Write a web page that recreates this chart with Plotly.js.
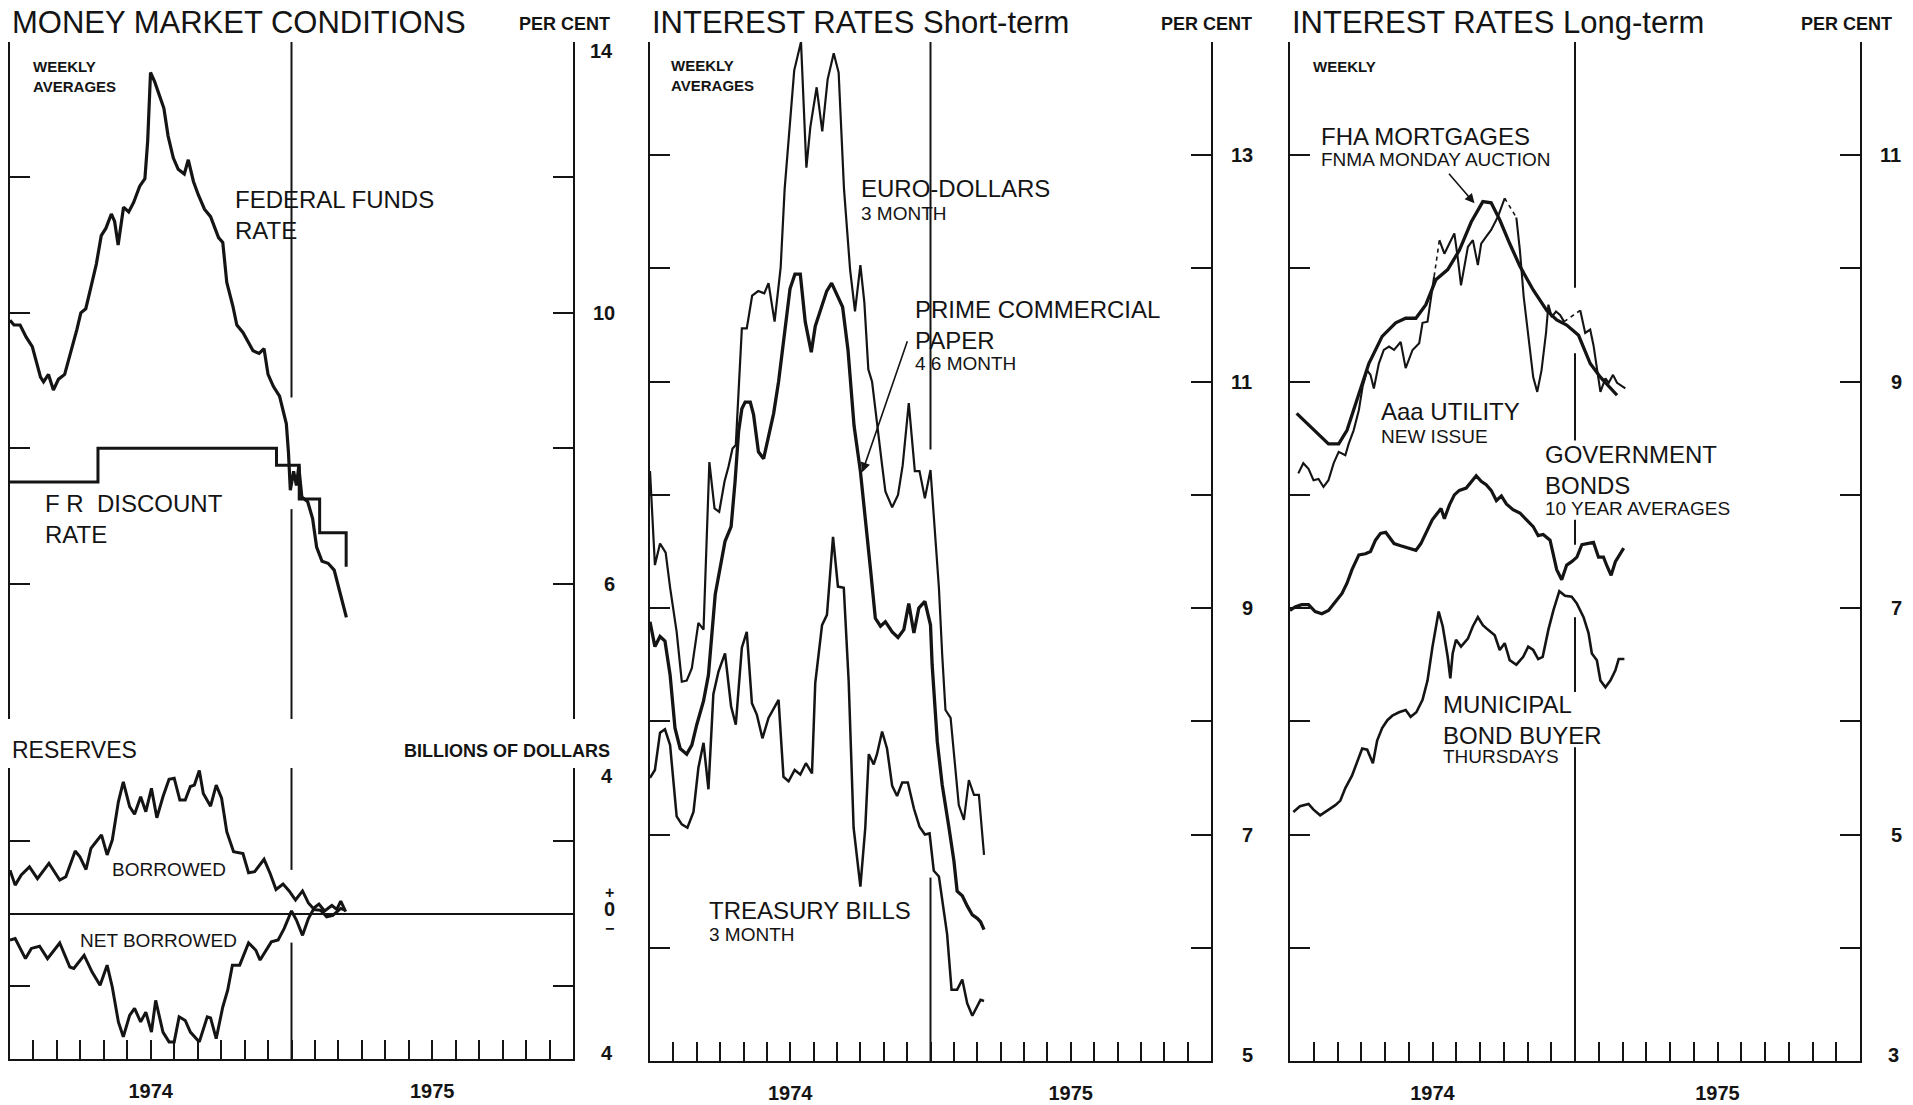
<!DOCTYPE html>
<html>
<head>
<meta charset="utf-8">
<script src="https://cdn.plot.ly/plotly-3.0.1.min.js"></script>
<style>html,body{margin:0;padding:0;background:#fff;}#chart{width:1913px;height:1105px;}</style>
</head>
<body>
<div id="chart"></div>
<script>
// x values: months elapsed since 1 January 1974
const monthTicks = [0,1,2,3,4,5,6,7,8,9,10,11,12,13,14,15,16,17,18,19,20,21,22,23,24];
const yearLabels = ['','','','','','','1974','','','','','','','','','','','','1975','','','','','',''];

// Money market conditions (per cent)
const ffMonths = [0,0.17,0.43,0.69,0.95,1.12,1.30,1.43,1.64,1.85,2.07,2.33,2.59,2.85,3.02,3.23,3.45,3.68,3.89,4.09,4.32,4.46,4.61,4.75,4.84,5.06,5.27,5.53,5.75,5.87,5.99,6.17,6.39,6.56,6.74,6.96,7.17,7.43,7.60,7.82,8.03,8.29,8.55,8.72,8.89,9.07,9.24,9.50,9.67,9.93,10.10,10.36,10.62,10.83,11.00,11.23,11.49,11.66,11.78,11.87,11.95,12.09,12.21,12.31,12.44,12.69,12.90,13.07,13.30,13.56,13.82,14.08,14.34];
const ffRate = [9.89,9.82,9.82,9.64,9.50,9.26,9.05,8.98,9.09,8.86,9.02,9.09,9.40,9.75,10.00,10.06,10.38,10.72,11.14,11.25,11.46,11.35,11.00,11.39,11.56,11.49,11.63,11.87,11.98,12.54,13.55,13.41,13.20,13.02,12.61,12.29,12.12,12.05,12.26,11.94,11.74,11.53,11.42,11.25,11.11,11.04,10.45,10.10,9.82,9.71,9.61,9.44,9.40,9.47,9.09,8.91,8.77,8.53,8.36,7.94,7.38,7.66,7.45,7.73,7.28,7.21,6.96,6.54,6.33,6.30,6.20,5.85,5.50];
const discMonths = [0,3.75,11.36,12.33,13.20,14.33];
const discRate = [7.5,8.0,7.75,7.25,6.75,6.25];

// Reserves (billions of dollars)
const borMonths = [0,0.22,0.48,0.83,1.17,1.66,2.12,2.38,2.78,2.98,3.24,3.45,3.62,3.90,4.14,4.36,4.62,4.83,5.10,5.31,5.57,5.79,6.03,6.26,6.52,6.78,7.00,7.24,7.47,7.69,7.86,8.07,8.24,8.55,8.79,9.02,9.24,9.53,9.93,10.17,10.43,10.83,11.09,11.34,11.64,11.90,12.17,12.47,12.72,12.93,13.17,13.41,13.72,13.93,14.10,14.31];
const borrowed = [1.19,0.78,1.06,1.28,0.96,1.38,0.92,1.01,1.72,1.56,1.21,1.79,1.93,2.16,1.61,2.02,3.07,3.62,2.94,2.73,3.21,2.80,3.44,2.63,3.21,3.69,3.72,3.12,3.12,3.49,3.53,3.93,3.30,2.95,3.53,3.17,2.25,1.70,1.65,1.12,1.15,1.49,1.10,0.66,0.81,0.62,0.37,0.62,0.29,0.14,0.26,0.07,0.22,0.11,0.34,0.05];
const netMonths = [0,0.22,0.66,0.91,1.26,1.60,2.12,2.55,2.72,3.16,3.50,3.84,4.14,4.36,4.62,4.83,5.10,5.31,5.57,5.79,6.03,6.21,6.52,6.78,7.00,7.21,7.47,7.69,8.07,8.41,8.55,8.79,9.07,9.28,9.48,9.79,10.17,10.48,10.66,10.91,11.14,11.43,11.69,12.00,12.21,12.47,12.72,12.93,13.24,13.50,13.76,14.10,14.28];
const netBorrowed = [-0.73,-0.69,-1.24,-0.96,-0.90,-1.24,-0.81,-1.47,-1.51,-1.15,-1.61,-1.97,-1.42,-2.02,-2.98,-3.39,-2.80,-2.61,-2.98,-2.71,-3.26,-2.39,-3.26,-3.53,-3.53,-2.84,-2.94,-3.26,-3.53,-2.84,-2.87,-3.44,-2.57,-2.11,-1.42,-1.42,-0.81,-1.01,-1.28,-1.01,-0.78,-0.73,-0.41,0.07,-0.18,-0.60,-0.14,0.11,0.09,-0.09,-0.05,0.14,0.09];

// Short-term interest rates (per cent)
const euroMonths = [0,0.21,0.43,0.67,0.86,1.14,1.36,1.57,1.79,2.07,2.29,2.54,2.76,2.96,3.19,3.36,3.53,3.67,3.93,4.14,4.37,4.63,4.89,5.07,5.33,5.59,5.76,6.03,6.17,6.46,6.69,6.86,7.13,7.37,7.60,7.86,8.07,8.30,8.56,8.77,9.00,9.17,9.34,9.50,9.71,9.93,10.07,10.36,10.61,10.81,11.07,11.33,11.53,11.76,12.00,12.14,12.36,12.50,12.64,12.86,13.07,13.21,13.43,13.64,13.86,14.07,14.29];
const euroRate = [10.21,9.38,9.57,9.49,9.18,8.79,8.35,8.36,8.47,8.87,8.81,10.29,9.88,9.85,10.12,10.25,10.41,10.44,11.47,11.47,11.76,11.80,11.78,11.87,11.53,12.01,12.70,13.37,13.75,14.00,12.89,13.25,13.60,13.21,13.67,13.90,13.73,12.70,11.99,11.62,12.03,11.70,11.11,11.00,10.62,10.26,10.03,9.89,10.00,10.26,10.81,10.21,10.21,9.97,10.22,9.82,9.18,8.59,8.10,8.03,7.59,7.26,7.13,7.48,7.35,7.35,6.82];
const cpMonths = [0,0.21,0.43,0.64,0.86,1.07,1.29,1.57,1.79,2.00,2.29,2.50,2.79,3.00,3.21,3.47,3.64,3.79,3.93,4.07,4.29,4.43,4.64,4.86,5.07,5.29,5.50,5.59,5.76,5.99,6.20,6.43,6.64,6.90,7.07,7.34,7.56,7.77,7.98,8.24,8.47,8.73,9.00,9.21,9.43,9.64,9.86,10.07,10.36,10.61,10.86,11.07,11.29,11.50,11.76,12.00,12.07,12.29,12.50,12.79,13.00,13.14,13.36,13.57,13.79,14.00,14.14,14.29];
const cpRate = [8.88,8.66,8.75,8.71,8.41,7.94,7.76,7.71,7.79,7.97,8.18,8.41,9.12,9.35,9.59,9.72,10.12,10.56,10.76,10.82,10.82,10.71,10.38,10.32,10.53,10.72,11.00,11.15,11.45,11.82,11.95,11.95,11.53,11.26,11.49,11.66,11.80,11.87,11.78,11.66,11.28,10.61,10.21,9.82,9.35,8.91,8.84,8.88,8.79,8.74,8.81,9.04,8.78,9.00,9.06,8.85,8.50,7.82,7.44,7.06,6.77,6.50,6.46,6.37,6.29,6.26,6.23,6.16];
const tbMonths = [0,0.21,0.43,0.64,0.86,1.14,1.36,1.60,1.86,2.07,2.29,2.50,2.71,2.93,3.21,3.47,3.67,3.93,4.14,4.36,4.57,4.81,5.07,5.50,5.71,5.93,6.19,6.43,6.67,6.93,7.07,7.36,7.57,7.83,8.04,8.29,8.50,8.71,9.00,9.21,9.36,9.57,9.71,9.93,10.14,10.36,10.57,10.79,11.03,11.29,11.53,11.76,11.96,12.14,12.36,12.57,12.71,12.90,13.14,13.36,13.57,13.79,13.97,14.14,14.29];
const tbRate = [7.50,7.57,7.90,7.93,7.79,7.16,7.09,7.06,7.20,7.59,7.81,7.40,8.24,8.44,8.60,8.13,7.97,8.65,8.79,8.16,8.06,7.85,8.03,8.19,7.51,7.47,7.57,7.53,7.63,7.54,8.34,8.85,8.94,9.63,9.19,9.18,8.35,7.06,6.54,7.06,7.71,7.62,7.71,7.91,7.76,7.43,7.34,7.46,7.46,7.23,7.07,7.00,7.01,6.68,6.63,6.35,6.12,5.63,5.63,5.72,5.51,5.40,5.47,5.54,5.53];

// Long-term interest rates (per cent)
const fhaMonths = [0.28,0.92,1.62,2.05,2.40,2.82,3.32,3.88,4.45,4.87,5.30,5.72,6.14,6.64,7.13,7.63,8.12,8.47,8.83,9.25,9.68,10.24,10.81,11.23,11.65,12.15,12.64,13.07,13.42,13.77];
const fhaRate = [8.72,8.59,8.45,8.45,8.57,8.84,9.16,9.40,9.52,9.56,9.56,9.68,9.90,9.99,10.16,10.41,10.59,10.58,10.43,10.22,10.02,9.81,9.63,9.545,9.50,9.41,9.16,9.04,8.96,8.88];
const aaaMonths = [0.35,0.56,0.78,0.99,1.20,1.41,1.62,1.84,2.05,2.33,2.47,2.68,2.90,3.06,3.25,3.39,3.53,3.74,3.95,4.17,4.38,4.66,4.87,5.16,5.44,5.58,5.79,5.93,6.07,6.29,6.50,6.71,6.92,7.06,7.20,7.49,7.70,7.91,8.05,8.26,8.47,8.76,9.04,9.53,9.68,9.84,10.03,10.24,10.41,10.59,10.78,10.88,11.02,11.20,11.37,11.54,12.22,12.43,12.64,12.78,13.07,13.28,13.42,13.60,13.77,14.12];
const aaaRate = [8.19,8.28,8.23,8.13,8.14,8.07,8.13,8.28,8.38,8.35,8.45,8.57,8.75,8.96,9.10,9.06,8.94,9.16,9.28,9.31,9.28,9.35,9.12,9.28,9.34,9.52,9.53,9.75,9.93,10.25,10.13,10.22,10.31,10.10,9.85,10.19,10.25,10.03,10.22,10.28,10.34,10.46,10.62,10.45,10.16,9.75,9.40,9.04,8.91,9.10,9.43,9.68,9.57,9.62,9.59,9.53,9.63,9.43,9.46,9.32,8.91,9.03,8.99,9.06,8.99,8.94];
const aaaDashedAfter = [28,42,55]; // weeks with no new issue: joined by a dashed line
const govMonths = [0,0.21,0.49,0.78,1.06,1.34,1.62,1.91,2.19,2.40,2.61,2.90,3.18,3.39,3.60,3.81,4.03,4.17,4.38,4.66,5.01,5.30,5.51,5.72,5.99,6.14,6.36,6.50,6.71,6.92,7.13,7.42,7.63,7.84,8.05,8.26,8.47,8.69,8.90,9.11,9.39,9.68,9.96,10.24,10.45,10.66,10.95,11.09,11.23,11.44,11.65,11.86,12.08,12.29,12.50,12.78,12.99,13.20,13.35,13.52,13.70,14.05];
const govRate = [6.98,7.01,7.03,7.03,6.97,6.95,6.98,7.06,7.13,7.22,7.34,7.47,7.48,7.50,7.60,7.66,7.67,7.63,7.57,7.55,7.53,7.51,7.57,7.66,7.78,7.82,7.88,7.79,7.91,8.00,8.04,8.06,8.12,8.17,8.12,8.09,8.04,7.95,7.99,7.92,7.87,7.84,7.78,7.72,7.64,7.65,7.60,7.48,7.34,7.25,7.38,7.41,7.45,7.56,7.57,7.58,7.45,7.45,7.37,7.29,7.41,7.53];
const muniMonths = [0.14,0.42,0.78,0.99,1.27,1.62,1.91,2.12,2.33,2.61,2.82,3.04,3.25,3.49,3.67,3.88,4.10,4.31,4.59,4.87,5.08,5.32,5.58,5.79,6.00,6.26,6.43,6.64,6.75,6.85,6.99,7.20,7.49,7.70,7.91,8.12,8.33,8.62,8.83,9.04,9.25,9.53,9.82,10.03,10.24,10.45,10.64,10.88,11.09,11.34,11.58,11.86,12.08,12.36,12.57,12.71,12.92,13.07,13.28,13.49,13.70,13.84,14.08];
const muniRate = [5.20,5.25,5.27,5.22,5.17,5.22,5.26,5.30,5.41,5.52,5.63,5.76,5.75,5.63,5.83,5.94,6.01,6.05,6.08,6.10,6.04,6.08,6.19,6.36,6.66,6.97,6.84,6.57,6.38,6.60,6.72,6.66,6.73,6.84,6.92,6.85,6.81,6.76,6.63,6.69,6.54,6.50,6.57,6.66,6.63,6.55,6.57,6.81,6.98,7.15,7.11,7.10,7.04,6.92,6.78,6.60,6.54,6.36,6.30,6.36,6.45,6.55,6.55];

// y-axis tick values and labels (U+2007 keeps single digits right-aligned);
// the labels at the very ends of an axis are drawn just inside the end tick
const fs = '\u2007';
const mmTicks = [4,6,8,10,12,14];
const mmLabels = ['', fs+'6', '', '10', '', ''];
const mmTopLabel = '14';
const resTicks = [-4,-2,0,2,4];
const resLabels = ['', '', '', '', ''];
const resTopLabel = fs+'4', resBottomLabel = fs+'4';
const resZeroLabel = ['+', '0', '\u2212'];
const stTicks = [5,6,7,8,9,10,11,12,13,14];
const stLabels = ['','',fs+'7','',fs+'9','','11','','13',''];
const stBottomLabel = fs+'5';
const ltTicks = [3,4,5,6,7,8,9,10,11,12];
const ltLabels = ['','',fs+'5','',fs+'7','',fs+'9','','11',''];
const ltBottomLabel = fs+'3';

// ---------------- drawing ----------------
const W = 1913, H = 1105;
const INK = '#141414';
const FONT = 'Liberation Sans, Arial, sans-serif';
const fx = p => p / W;
const fy = p => 1 - p / H;

function line(xs, ys, xa, ya, w, extra) {
  return Object.assign({
    type: 'scatter', mode: 'lines', x: xs, y: ys, xaxis: xa, yaxis: ya,
    line: {color: INK, width: w}, hoverinfo: 'skip', connectgaps: false
  }, extra || {});
}

// Aaa utility: solid pieces and dashed joins
const aaaSolidX = [], aaaSolidY = [], aaaDashX = [], aaaDashY = [];
aaaMonths.forEach((m, i) => {
  aaaSolidX.push(m); aaaSolidY.push(aaaRate[i]);
  if (aaaDashedAfter.includes(i)) {
    aaaSolidX.push(null); aaaSolidY.push(null);
    aaaDashX.push(m, aaaMonths[i + 1], null);
    aaaDashY.push(aaaRate[i], aaaRate[i + 1], null);
  }
});

const traces = [
  line(discMonths, discRate, 'x', 'y', 3, {line: {color: INK, width: 3, shape: 'hv'}}),
  line(ffMonths, ffRate, 'x', 'y', 3.2),
  line(borMonths, borrowed, 'x2', 'y2', 3),
  line(netMonths, netBorrowed, 'x2', 'y2', 3),
  line(euroMonths, euroRate, 'x3', 'y3', 2.2),
  line(cpMonths, cpRate, 'x3', 'y3', 3.3),
  line(tbMonths, tbRate, 'x3', 'y3', 2.5),
  line(aaaDashX, aaaDashY, 'x4', 'y4', 1.6, {line: {color: INK, width: 1.6, dash: '4px,4px'}}),
  line(aaaSolidX, aaaSolidY, 'x4', 'y4', 2.1),
  line(fhaMonths, fhaRate, 'x4', 'y4', 3.3),
  line(govMonths, govRate, 'x4', 'y4', 3.2),
  line(muniMonths, muniRate, 'x4', 'y4', 2.6)
];

const tickFont = {family: FONT, size: 20, color: INK, weight: 'bold'};
function yAxis(dom, range, tv, tt, anchor) {
  return {
    domain: dom, range: range, anchor: anchor, side: 'right',
    tickmode: 'array', tickvals: tv, ticktext: tt,
    ticks: 'inside', ticklen: 20, tickwidth: 2, tickcolor: INK,
    showline: true, linewidth: 2, linecolor: INK, mirror: 'ticks',
    showgrid: false, zeroline: false, tickfont: tickFont, ticklabelstandoff: 14,
    fixedrange: true
  };
}
function xAxis(dom, anchor, shown) {
  return {
    domain: dom, range: [0, 24], anchor: anchor,
    tickmode: 'array', tickvals: monthTicks, ticktext: yearLabels,
    ticks: shown ? 'inside' : '', ticklen: 19, tickwidth: 2, tickcolor: INK,
    showline: shown, linewidth: 2, linecolor: INK, mirror: false,
    showticklabels: shown, showgrid: false, zeroline: false,
    tickfont: tickFont, ticklabelstandoff: 13, fixedrange: true
  };
}

const xd1 = [fx(10), fx(573)], xd2 = [fx(650), fx(1211)], xd3 = [fx(1290), fx(1860)];
const y2axis = yAxis([fy(1059), fy(768)], [-4, 4], resTicks, resLabels, 'x2');
y2axis.zeroline = true; y2axis.zerolinecolor = INK; y2axis.zerolinewidth = 2;

// divider at the turn of the year (broken where lines and labels cross)
const dividers = [
  ['x', 'y', [[8.75, 14], [4, 7.1]]],
  ['x2', 'y2', [[1.2, 4], [-4, -0.8]]],
  ['x3', 'y3', [[10.4, 14], [5, 6.62]]],
  ['x4', 'y4', [[9.83, 12], [8.48, 9.25], [7.56, 7.78], [6.26, 6.92], [3, 5.77]]]
];
const shapes = [];
dividers.forEach(([xr, yr, segs]) => segs.forEach(s => shapes.push({
  type: 'line', xref: xr, yref: yr, x0: 12, x1: 12, y0: s[0], y1: s[1],
  line: {color: INK, width: 2}, layer: 'below'
})));

function txt(text, x, y, xr, yr, size, opts) {
  return Object.assign({
    text: text, x: x, y: y, xref: xr, yref: yr, showarrow: false,
    xanchor: 'left', yanchor: 'middle', align: 'left',
    font: {family: FONT, size: size, color: INK}
  }, opts || {});
}
const bold = (s) => ({family: FONT, size: s, color: INK, weight: 'bold'});
const endLabel = (t, xp, v, yr, shift) =>
  txt(t, fx(xp), v, 'paper', yr, 20, {xanchor: 'right', font: bold(20), yshift: shift});

// "+ 0 -" stacked as one block of text at the zero line
const zeroStack = '<span style="font-size:16px">' + resZeroLabel[0] + '</span><br>' +
  '<span style="font-size:20px">' + resZeroLabel[1] + '</span><br>' +
  '<span style="font-size:16px">' + resZeroLabel[2] + '</span>';

const annotations = [
  // headers
  txt('MONEY MARKET CONDITIONS', fx(10), fy(22), 'paper', 'paper', 31),
  txt('INTEREST RATES Short-term', fx(650), fy(22), 'paper', 'paper', 31),
  txt('INTEREST RATES Long-term', fx(1290), fy(22), 'paper', 'paper', 31),
  txt('PER CENT', fx(612), fy(24), 'paper', 'paper', 18, {xanchor: 'right', font: bold(18)}),
  txt('PER CENT', fx(1254), fy(24), 'paper', 'paper', 18, {xanchor: 'right', font: bold(18)}),
  txt('PER CENT', fx(1894), fy(24), 'paper', 'paper', 18, {xanchor: 'right', font: bold(18)}),
  txt('RESERVES', fx(10), fy(750), 'paper', 'paper', 23),
  txt('BILLIONS OF DOLLARS', fx(612), fy(751), 'paper', 'paper', 18, {xanchor: 'right', font: bold(18)}),
  txt(zeroStack, fx(609), 0, 'paper', 'y2', 14, {xanchor: 'center', align: 'center', font: bold(14), yshift: 3}),
  // axis end labels
  endLabel(mmTopLabel, 615, 14, 'y', -9),
  endLabel(resTopLabel, 615, 4, 'y2', -8),
  endLabel(resBottomLabel, 615, -4, 'y2', 6),
  endLabel(stBottomLabel, 1255, 5, 'y3', 6),
  endLabel(ltBottomLabel, 1901, 3, 'y4', 6),
  // money market panel
  txt('WEEKLY<br>AVERAGES', 0.9, 13.49, 'x', 'y', 15, {font: bold(15)}),
  txt('FEDERAL FUNDS<br>RATE', 9.5, 11.45, 'x', 'y', 24),
  txt('F R  DISCOUNT<br>RATE', 1.41, 6.96, 'x', 'y', 24),
  txt('BORROWED', 6.78, 1.2, 'x2', 'y2', 19, {xanchor: 'center'}),
  txt('NET BORROWED', 6.33, -0.73, 'x2', 'y2', 19, {xanchor: 'center'}),
  // short-term panel
  txt('WEEKLY<br>AVERAGES', 0.81, 13.70, 'x3', 'y3', 15, {font: bold(15)}),
  txt('EURO-DOLLARS', 8.92, 12.71, 'x3', 'y3', 24),
  txt('3 MONTH', 8.92, 12.485, 'x3', 'y3', 19),
  txt('PRIME COMMERCIAL<br>PAPER', 11.27, 11.50, 'x3', 'y3', 24),
  txt('4 6 MONTH', 11.27, 11.16, 'x3', 'y3', 19),
  txt('TREASURY BILLS', 2.44, 6.33, 'x3', 'y3', 24),
  txt('3 MONTH', 2.44, 6.12, 'x3', 'y3', 19),
  {x: 9.08, y: 10.20, xref: 'x3', yref: 'y3', ax: 11.03, ay: 11.37, axref: 'x3', ayref: 'y3',
   text: '', showarrow: true, arrowhead: 2, arrowsize: 1.2, arrowwidth: 1.6, arrowcolor: INK},
  // long-term panel
  txt('WEEKLY', 0.89, 11.78, 'x4', 'y4', 15, {font: bold(15)}),
  txt('FHA MORTGAGES', 1.23, 11.165, 'x4', 'y4', 24),
  txt('FNMA MONDAY AUCTION', 1.23, 10.96, 'x4', 'y4', 19),
  {x: 7.77, y: 10.575, xref: 'x4', yref: 'y4', ax: 6.64, ay: 10.85, axref: 'x4', ayref: 'y4',
   text: '', showarrow: true, arrowhead: 2, arrowsize: 1.2, arrowwidth: 1.6, arrowcolor: INK},
  txt('Aaa UTILITY', 3.73, 8.74, 'x4', 'y4', 24),
  txt('NEW ISSUE', 3.73, 8.52, 'x4', 'y4', 19),
  txt('GOVERNMENT<br>BONDS', 10.66, 8.22, 'x4', 'y4', 24),
  txt('10 YEAR AVERAGES', 10.66, 7.88, 'x4', 'y4', 19),
  txt('MUNICIPAL<br>BOND BUYER', 6.36, 6.015, 'x4', 'y4', 24),
  txt('THURSDAYS', 6.36, 5.69, 'x4', 'y4', 19)
];

const layout = {
  width: W, height: H, margin: {l: 0, r: 0, t: 0, b: 0},
  paper_bgcolor: '#fff', plot_bgcolor: 'rgba(0,0,0,0)', showlegend: false,
  font: {family: FONT, color: INK},
  xaxis: xAxis(xd1, 'y', false),
  yaxis: yAxis([fy(719), fy(42)], [4, 14], mmTicks, mmLabels, 'x'),
  xaxis2: xAxis(xd1, 'y2', true),
  yaxis2: y2axis,
  xaxis3: xAxis(xd2, 'y3', true),
  yaxis3: yAxis([fy(1061), fy(42)], [5, 14], stTicks, stLabels, 'x3'),
  xaxis4: xAxis(xd3, 'y4', true),
  yaxis4: yAxis([fy(1061), fy(42)], [3, 12], ltTicks, ltLabels, 'x4'),
  shapes: shapes,
  annotations: annotations
};

Plotly.newPlot('chart', traces, layout, {displayModeBar: false, staticPlot: true});
</script>
</body>
</html>
